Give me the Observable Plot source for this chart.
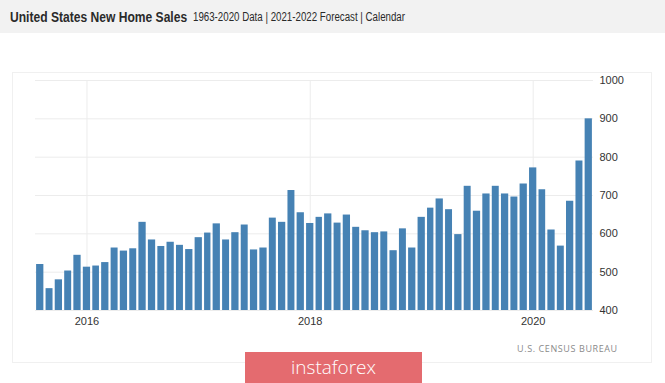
<!DOCTYPE html>
<html>
<head>
<meta charset="utf-8">
<script src="https://cdn.jsdelivr.net/npm/d3@7"></script>
<script src="https://cdn.jsdelivr.net/npm/@observablehq/plot@0.6"></script>
<style>
  html, body { margin: 0; padding: 0; background: #fff; width: 665px; height: 383px; overflow: hidden; position: relative; font-family: "Liberation Sans", Arial, sans-serif; }
  #header { position: absolute; left: 0; top: 0; width: 665px; height: 33px; background: #f2f2f2; }
  #title { position: absolute; left: 10px; top: 8px; font-size: 15px; font-weight: bold; color: #2a2a2a; white-space: nowrap; transform: scaleX(0.805); transform-origin: left center; }
  #subtitle { position: absolute; left: 193px; top: 10px; font-size: 12px; color: #2a2a2a; white-space: nowrap; transform: scaleX(0.81); transform-origin: left center; }
  #frame { position: absolute; left: 12px; top: 72px; width: 640px; height: 291px; border: 1px solid #f0f0f0; box-sizing: border-box; }
  #chart { position: absolute; left: 0; top: 33px; }
  #source { position: absolute; left: 517px; top: 342px; font-family: "Open Sans", sans-serif; font-size: 9px; color: #8a8a8a; letter-spacing: 0.6px; white-space: nowrap; }
  #badge { position: absolute; left: 245px; top: 352px; width: 177px; height: 31px; background: #e46b6f; color: #fff; font-family: "Open Sans", sans-serif; font-size: 19px; font-weight: 300; text-align: center; line-height: 30px; }
</style>
</head>
<body>
<div id="header"><div id="title">United States New Home Sales</div><div id="subtitle">1963-2020 Data | 2021-2022 Forecast | Calendar</div></div>
<div id="frame"></div>
<div id="chart"></div>
<div id="source">U.S. CENSUS BUREAU</div>
<div id="badge">instaforex</div>
<script>
const startMonth = "2015-08";
const sales = [
  520, 457, 480, 503, 544, 513, 516, 525, 563, 555, 561, 630,
  584, 567, 578, 570, 559, 590, 602, 626, 584, 603, 623, 558,
  563, 641, 630, 713, 655, 627, 643, 652, 628, 649, 617, 608,
  603, 605, 556, 613, 563, 643, 667, 691, 663, 598, 724, 659,
  704, 724, 704, 696, 730, 772, 715, 610, 568, 685, 790, 900
];
const yTicks = [400, 500, 600, 700, 800, 900, 1000];
const xTickYears = ["2016", "2018", "2020"];

const start = new Date(startMonth + "-01T00:00:00Z");
const data = sales.map((v, i) => ({ date: d3.utcMonth.offset(start, i), value: v }));
// ticks sit in the middle of each January bar
const xTicks = xTickYears.map(y => new Date(y + "-01-16T12:00:00Z"));
const end = d3.utcMonth.offset(start, sales.length);

const chart = Plot.plot({
  width: 665,
  height: 310,
  marginTop: 47,
  marginBottom: 33,
  marginLeft: 35,
  marginRight: 72,
  style: { background: "transparent", fontFamily: "'Liberation Sans', Arial, sans-serif", fontSize: "11px", color: "#333" },
  x: { type: "utc", domain: [start, end], ticks: xTicks, tickFormat: d3.utcFormat("%Y"), tickSize: 0, tickPadding: 7, label: null },
  y: { domain: [400, 1000], ticks: yTicks, tickFormat: d => String(d), tickSize: 0, tickPadding: 6, label: null, axis: "right" },
  marks: [
    Plot.ruleY(yTicks, { stroke: "#ececec", strokeWidth: 1 }),
    Plot.ruleX(xTicks, { stroke: "#ececec", strokeWidth: 1 }),
    Plot.rectY(data, { x: "date", interval: "month", y1: 400, y2: "value", fill: "#4682b4", insetLeft: 1.1, insetRight: 1.1 })
  ]
});
document.getElementById("chart").appendChild(chart);
</script>
</body>
</html>
